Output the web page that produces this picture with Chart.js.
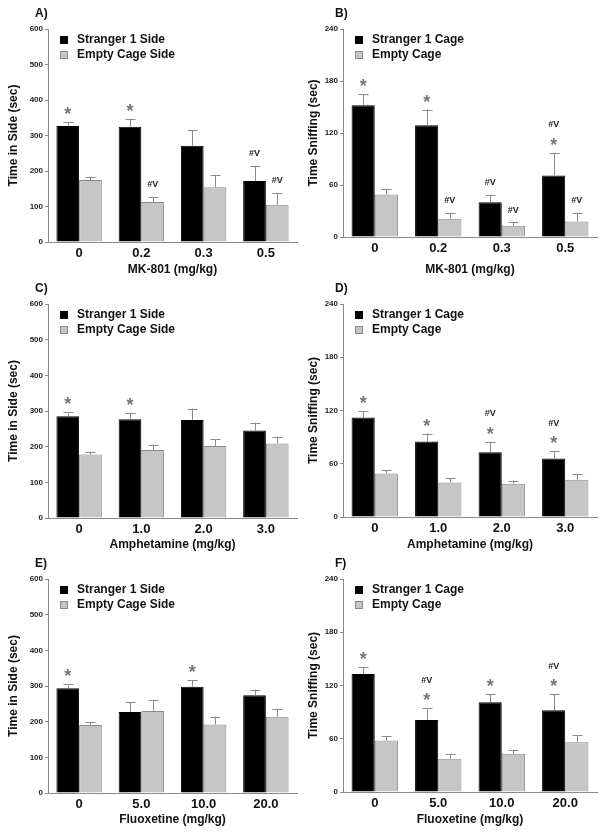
<!DOCTYPE html>
<html>
<head>
<meta charset="utf-8">
<script src="https://cdn.jsdelivr.net/npm/chart.js@4.4.1/dist/chart.umd.min.js"></script>
<style>
    body { margin: 0; background: #fff; }
    #wrap { position: relative; width: 605px; height: 837px; }
    canvas { position: absolute; }
</style>
</head>
<body>
<div id="wrap">
    <canvas id="panelA" width="300" height="280" style="left:0;top:0"></canvas>
    <canvas id="panelB" width="305" height="280" style="left:300px;top:0"></canvas>
    <canvas id="panelC" width="300" height="280" style="left:0;top:275px"></canvas>
    <canvas id="panelD" width="305" height="280" style="left:300px;top:275px"></canvas>
    <canvas id="panelE" width="300" height="280" style="left:0;top:550px"></canvas>
    <canvas id="panelF" width="305" height="280" style="left:300px;top:550px"></canvas>
</div>
<script>
// dosis por droga
const dosisMK = ['0', '0.2', '0.3', '0.5'];
const dosisAnfet = ['0', '1.0', '2.0', '3.0'];
const dosisFluox = ['0', '5.0', '10.0', '20.0'];

// A) MK-801, tiempo en lado
const ladoExtranoMK = [327, 325, 271, 172];
const errLadoExtranoMK = [11, 22, 44, 43];
const ladoVacioMK = [175, 113, 154, 105];
const errLadoVacioMK = [8, 14, 35, 33];
const marcasLadoExtranoMK = [['*'], ['*'], [], ['#V']];
const marcasLadoVacioMK = [[], ['#V'], [], ['#V']];

// B) MK-801, tiempo olfateando
const jaulaExtranoMK = [152, 129, 40, 71];
const errJaulaExtranoMK = [13, 18, 9, 26];
const jaulaVaciaMK = [49, 21, 13, 18];
const errJaulaVaciaMK = [6, 7, 4, 10];
const marcasJaulaExtranoMK = [['*'], ['*'], ['#V'], ['*', '#V']];
const marcasJaulaVaciaMK = [[], ['#V'], ['#V'], ['#V']];

// C) Anfetamina, tiempo en lado
const ladoExtranoAnfet = [285, 277, 275, 245];
const errLadoExtranoAnfet = [11, 18, 32, 22];
const ladoVacioAnfet = [178, 191, 202, 209];
const errLadoVacioAnfet = [8, 15, 19, 19];
const marcasLadoExtranoAnfet = [['*'], ['*'], [], []];
const marcasLadoVacioAnfet = [[], [], [], []];

// D) Anfetamina, tiempo olfateando
const jaulaExtranoAnfet = [112, 85, 73, 66];
const errJaulaExtranoAnfet = [7, 9, 12, 8];
const jaulaVaciaAnfet = [49, 39, 37.5, 42];
const errJaulaVaciaAnfet = [3.5, 5, 3.5, 6];
const marcasJaulaExtranoAnfet = [['*'], ['*'], ['*', '#V'], ['*', '#V']];
const marcasJaulaVaciaAnfet = [[], [], [], []];

// E) Fluoxetina, tiempo en lado
const ladoExtranoFluox = [294, 227, 298, 274];
const errLadoExtranoFluox = [11, 28, 18, 16];
const ladoVacioFluox = [191, 230, 192, 214];
const errLadoVacioFluox = [8, 31, 22, 22];
const marcasLadoExtranoFluox = [['*'], [], ['*'], []];
const marcasLadoVacioFluox = [[], [], [], []];

// F) Fluoxetina, tiempo olfateando
const jaulaExtranoFluox = [133, 81, 101, 92];
const errJaulaExtranoFluox = [8, 13.5, 9, 18];
const jaulaVaciaFluox = [58, 37.5, 43, 56];
const errJaulaVaciaFluox = [5, 5, 4.5, 8];
const marcasJaulaExtranoFluox = [['*'], ['*', '#V'], ['*'], ['*', '#V']];
const marcasJaulaVaciaFluox = [[], [], [], []];

const leyendaLado = ['Stranger 1 Side', 'Empty Cage Side'];
const leyendaJaula = ['Stranger 1 Cage', 'Empty Cage'];

Chart.defaults.font.family = '"Liberation Sans", Arial, sans-serif';
Chart.defaults.font.weight = 'bold';

// barras de error, asteriscos, leyenda y letra del panel
const extras = {
    id: 'extras',
    afterDatasetsDraw(chart, args, opts) {
        const ctx = chart.ctx;
        const y = chart.scales.y;
        ctx.save();
        chart.data.datasets.forEach(function (ds, i) {
            chart.getDatasetMeta(i).data.forEach(function (bar, j) {
                var tope = y.getPixelForValue(ds.data[j] + ds.errors[j]);
                var x = Math.round(bar.x) + 0.5;
                ctx.strokeStyle = '#8a8a8a';
                ctx.lineWidth = 1;
                ctx.beginPath();
                ctx.moveTo(x, bar.y);
                ctx.lineTo(x, tope);
                ctx.moveTo(x - 5, Math.round(tope) + 0.5);
                ctx.lineTo(x + 5, Math.round(tope) + 0.5);
                ctx.stroke();
                var yy = tope - 12;
                ds.marks[j].forEach(function (m) {
                    ctx.textAlign = 'center';
                    if (m == '*') {
                        ctx.font = 'bold 18px "Liberation Sans", Arial, sans-serif';
                        ctx.fillStyle = '#777';
                        ctx.textBaseline = 'alphabetic';
                        ctx.fillText('*', bar.x, yy + 10);
                    } else {
                        ctx.font = 'bold 9px "Liberation Sans", Arial, sans-serif';
                        ctx.fillStyle = '#222';
                        ctx.textBaseline = 'middle';
                        ctx.fillText(m, bar.x, yy);
                    }
                    yy -= 16;
                });
            });
        });
        // leyenda
        var area = chart.chartArea;
        chart.data.datasets.forEach(function (ds, i) {
            var ly = area.top + 11 + i * 15;
            ctx.fillStyle = ds.backgroundColor;
            ctx.fillRect(area.left + 12, ly - 4, 8, 8);
            ctx.strokeStyle = ds.borderColor;
            ctx.strokeRect(area.left + 12.5, ly - 3.5, 7, 7);
            ctx.fillStyle = '#111';
            ctx.font = 'bold 12px "Liberation Sans", Arial, sans-serif';
            ctx.textAlign = 'left';
            ctx.textBaseline = 'middle';
            ctx.fillText(ds.label, area.left + 29, ly);
        });
        ctx.font = 'bold 12px "Liberation Sans", Arial, sans-serif';
        ctx.fillStyle = '#111';
        ctx.fillText(opts.letra, 35, 14);
        ctx.restore();
    }
};

function crearPanel(id, letra, etiquetas, nombres, extrano, errExtrano, marcasExtrano, vacio, errVacio, marcasVacio, maximo, paso, tituloY, tituloX, anchoY, fondo) {
    const canvas = document.getElementById(id);
    const derecha = canvas.width - anchoY - (canvas.width == 300 ? 249 : 254);
    return new Chart(canvas, {
        type: 'bar',
        data: {
            labels: etiquetas,
            datasets: [{
                label: nombres[0],
                data: extrano,
                errors: errExtrano,
                marks: marcasExtrano,
                backgroundColor: '#000',
                borderColor: '#000',
                borderWidth: 1
            }, {
                label: nombres[1],
                data: vacio,
                errors: errVacio,
                marks: marcasVacio,
                backgroundColor: '#c6c6c6',
                borderColor: '#8a8a8a',
                borderWidth: 1
            }]
        },
        options: {
            responsive: false,
            animation: false,
            categoryPercentage: 0.73,
            barPercentage: 1,
            layout: { padding: { top: 29, right: derecha, left: 0, bottom: 4 } },
            plugins: {
                legend: { display: false },
                tooltip: { enabled: false },
                extras: { letra: letra }
            },
            scales: {
                x: {
                    grid: { display: false, drawTicks: false, tickLength: 0 },
                    border: { color: '#8a8a8a' },
                    ticks: { color: '#111', font: { size: 13, weight: 'bold' }, padding: 4 },
                    title: { display: true, text: tituloX, color: '#111', font: { size: 12, weight: 'bold', lineHeight: 1 }, padding: { top: 0, bottom: 0 } },
                    afterFit: function (s) { s.height = 276 - fondo; }
                },
                y: {
                    min: 0,
                    max: maximo,
                    grid: { drawOnChartArea: false, tickLength: 3, color: '#8a8a8a' },
                    border: { color: '#8a8a8a' },
                    ticks: { stepSize: paso, color: '#222', font: { size: 8, weight: 'bold' }, padding: 2 },
                    title: { display: true, text: tituloY, color: '#111', font: { size: 12, weight: 'bold', lineHeight: 1 }, padding: { top: 8, bottom: 0 } },
                    afterFit: function (s) { s.width = anchoY; }
                }
            }
        },
        plugins: [extras]
    });
}

crearPanel('panelA', 'A)', dosisMK, leyendaLado, ladoExtranoMK, errLadoExtranoMK, marcasLadoExtranoMK, ladoVacioMK, errLadoVacioMK, marcasLadoVacioMK, 600, 100, 'Time in Side (sec)', 'MK-801 (mg/kg)', 48, 242);
crearPanel('panelB', 'B)', dosisMK, leyendaJaula, jaulaExtranoMK, errJaulaExtranoMK, marcasJaulaExtranoMK, jaulaVaciaMK, errJaulaVaciaMK, marcasJaulaVaciaMK, 240, 60, 'Time Sniffing (sec)', 'MK-801 (mg/kg)', 43, 237);
crearPanel('panelC', 'C)', dosisAnfet, leyendaLado, ladoExtranoAnfet, errLadoExtranoAnfet, marcasLadoExtranoAnfet, ladoVacioAnfet, errLadoVacioAnfet, marcasLadoVacioAnfet, 600, 100, 'Time in Side (sec)', 'Amphetamine (mg/kg)', 48, 243);
crearPanel('panelD', 'D)', dosisAnfet, leyendaJaula, jaulaExtranoAnfet, errJaulaExtranoAnfet, marcasJaulaExtranoAnfet, jaulaVaciaAnfet, errJaulaVaciaAnfet, marcasJaulaVaciaAnfet, 240, 60, 'Time Sniffing (sec)', 'Amphetamine (mg/kg)', 43, 242);
crearPanel('panelE', 'E)', dosisFluox, leyendaLado, ladoExtranoFluox, errLadoExtranoFluox, marcasLadoExtranoFluox, ladoVacioFluox, errLadoVacioFluox, marcasLadoVacioFluox, 600, 100, 'Time in Side (sec)', 'Fluoxetine (mg/kg)', 48, 243);
crearPanel('panelF', 'F)', dosisFluox, leyendaJaula, jaulaExtranoFluox, errJaulaExtranoFluox, marcasJaulaExtranoFluox, jaulaVaciaFluox, errJaulaVaciaFluox, marcasJaulaVaciaFluox, 240, 60, 'Time Sniffing (sec)', 'Fluoxetine (mg/kg)', 43, 242);
</script>
</body>
</html>
